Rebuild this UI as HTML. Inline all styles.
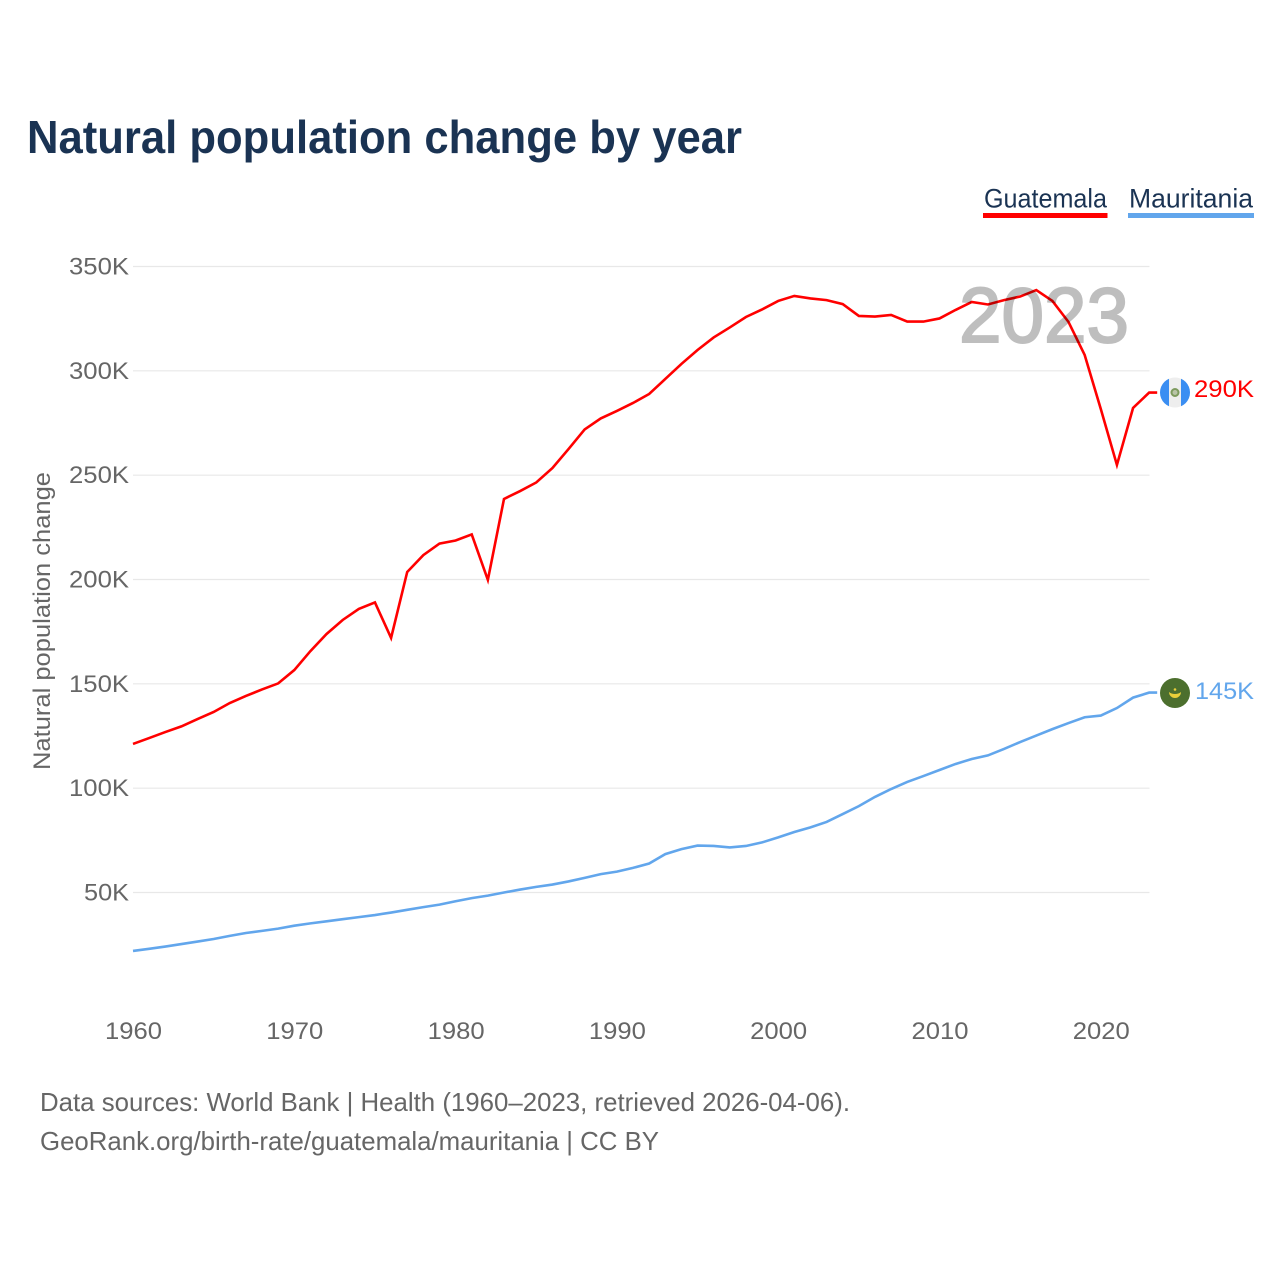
<!DOCTYPE html>
<html lang="en">
<head>
<meta charset="utf-8">
<title>Natural population change by year</title>
<style>
html,body{margin:0;padding:0;background:#fff;}
svg{display:block;font-family:"Liberation Sans",sans-serif;}
</style>
</head>
<body>
<svg id="chart" xmlns="http://www.w3.org/2000/svg" width="1280" height="1280" viewBox="0 0 1280 1280">
  <rect width="1280" height="1280" fill="#fff"/>
  <text x="27" y="153" font-size="46" font-weight="700" fill="#1a3353" textLength="715" lengthAdjust="spacingAndGlyphs">Natural population change by year</text>
  <g>
    <g>
      <text x="984" y="207.500" font-size="26.500" fill="#1a3353" textLength="123" lengthAdjust="spacingAndGlyphs">Guatemala</text>
      <rect x="983" y="213" width="124.500" height="5" fill="#ff0000"/>
    </g>
    <g>
      <text x="1129" y="207.500" font-size="26.500" fill="#1a3353" textLength="124" lengthAdjust="spacingAndGlyphs">Mauritania</text>
      <rect x="1128" y="213" width="126" height="5" fill="#62a6ec"/>
    </g>
  </g>
  <g id="grid"></g>
  <g id="yticks"></g>
  <g id="xticks"></g>
  <text transform="translate(50,770) rotate(-90)" font-size="24" fill="#666" textLength="298" lengthAdjust="spacingAndGlyphs">Natural population change</text>
  <g id="lines"></g>
  <text x="959" y="342" font-size="78" fill="#000" stroke="#000" stroke-width="2" opacity="0.25" textLength="170" lengthAdjust="spacingAndGlyphs">2023</text>
  <g>
    <clipPath id="flagClipG"><circle cx="1175" cy="392.500" r="15"/></clipPath>
    <g clip-path="url(#flagClipG)">
      <rect x="1160" y="377" width="30" height="31" fill="#eeeeee"/>
      <rect x="1160" y="377" width="9" height="31" fill="#3a8ef2"/>
      <rect x="1181" y="377" width="9" height="31" fill="#3a8ef2"/>
    </g>
    <circle cx="1175" cy="392.500" r="3.500" fill="#b9c4a8" stroke="#7d9a5e" stroke-width="2"/>
  </g>
  <g>
    <circle cx="1175" cy="693" r="15" fill="#4c6f2e"/>
    <path d="M1169 692A6 6 0 0 0 1181 692A7.500 5 0 0 1 1169 692z" fill="#e8cf3a"/>
    <circle cx="1175" cy="689.500" r="1.300" fill="#e8cf3a"/>
  </g>
  <text x="1194" y="397" font-size="24.500" fill="#ff0000" textLength="60" lengthAdjust="spacingAndGlyphs">290K</text>
  <text x="1195" y="699" font-size="24.500" fill="#62a6ec" textLength="59" lengthAdjust="spacingAndGlyphs">145K</text>
  <text x="40" y="1111" font-size="26" fill="#666" textLength="810" lengthAdjust="spacingAndGlyphs">Data sources: World Bank | Health (1960–2023, retrieved 2026-04-06).</text>
  <text x="40" y="1150" font-size="26" fill="#666" textLength="619" lengthAdjust="spacingAndGlyphs">GeoRank.org/birth-rate/guatemala/mauritania | CC BY</text>
</svg>
<script>
const years = [1960,1961,1962,1963,1964,1965,1966,1967,1968,1969,1970,1971,1972,1973,1974,1975,1976,1977,1978,1979,1980,1981,1982,1983,1984,1985,1986,1987,1988,1989,1990,1991,1992,1993,1994,1995,1996,1997,1998,1999,2000,2001,2002,2003,2004,2005,2006,2007,2008,2009,2010,2011,2012,2013,2014,2015,2016,2017,2018,2019,2020,2021,2022,2023];
const guatemala = [121.2,124,126.9,129.6,133.1,136.5,140.8,144.2,147.3,150.2,156.6,165.7,173.9,180.6,185.9,189,172,203.6,211.7,217.2,218.7,221.6,199.8,238.6,242.4,246.5,253.4,262.5,271.9,277.2,280.8,284.6,288.9,296.1,303.3,310,316,320.8,325.8,329.4,333.5,335.9,334.7,333.9,332,326.3,326,326.8,323.6,323.6,325.1,329.2,333,331.8,333.9,335.6,338.7,333.5,323.4,307.6,281.7,254.9,282.2,289.6];
const mauritania = [22,23,24.1,25.3,26.5,27.7,29.2,30.6,31.6,32.7,34.1,35.2,36.2,37.2,38.2,39.2,40.4,41.7,43,44.2,45.8,47.3,48.5,50,51.4,52.7,53.8,55.3,57,58.8,60,61.8,63.9,68.4,70.8,72.5,72.3,71.6,72.3,74,76.4,79,81.2,83.8,87.6,91.4,95.8,99.6,103,105.8,108.7,111.6,114,115.7,118.8,122.1,125.2,128.3,131.2,134,134.8,138.4,143.4,145.8];
const yTickValues = [50,100,150,200,250,300,350];
const yTickLabels = ["50K","100K","150K","200K","250K","300K","350K"];
const xTickValues = [1960,1970,1980,1990,2000,2010,2020];

const NS = "http://www.w3.org/2000/svg";
function xScale(year){ return 133 + (year - 1960) * 16.13; }
function yScale(value){ return 892.5 - (value - 50) * (892.5 - 266.5) / 300; }

const grid = document.getElementById("grid");
const yticks = document.getElementById("yticks");
const xticks = document.getElementById("xticks");
const lines = document.getElementById("lines");

yTickValues.forEach(function(v, i){
  const l = document.createElementNS(NS, "line");
  
  
  l.setAttribute("x1", 133);
  l.setAttribute("x2", 1149.5);
  l.setAttribute("y1", yScale(v));
  l.setAttribute("y2", yScale(v));
  l.setAttribute("stroke", "#e8e8e8");
  l.setAttribute("stroke-width", 1.2);
  grid.appendChild(l);

  const t = document.createElementNS(NS, "text");
  
  
  const w = yTickLabels[i].length === 3 ? 45 : 60;
  t.setAttribute("x", 129 - w);
  t.setAttribute("y", yScale(v) + 8);
  t.setAttribute("font-size", 24);
  t.setAttribute("fill", "#666");
  t.setAttribute("textLength", w);
  t.setAttribute("lengthAdjust", "spacingAndGlyphs");
  t.textContent = yTickLabels[i];
  yticks.appendChild(t);
});

xTickValues.forEach(function(year){
  const t = document.createElementNS(NS, "text");
  
  
  t.setAttribute("x", xScale(year) - 28);
  t.setAttribute("y", 1039);
  t.setAttribute("font-size", 24);
  t.setAttribute("fill", "#666");
  t.setAttribute("textLength", 57);
  t.setAttribute("lengthAdjust", "spacingAndGlyphs");
  t.textContent = String(year);
  xticks.appendChild(t);
});

function pointsFor(values){
  const pts = values.map(function(v, i){
    return xScale(years[i]).toFixed(2) + "," + yScale(v).toFixed(2);
  });
  const last = values.length - 1;
  pts.push((xScale(years[last]) + 8).toFixed(2) + "," + yScale(values[last]).toFixed(2));
  return pts.join(" ");
}

const mauritaniaLine = document.createElementNS(NS, "polyline");


mauritaniaLine.setAttribute("points", pointsFor(mauritania));
mauritaniaLine.setAttribute("fill", "none");
mauritaniaLine.setAttribute("stroke", "#62a6ec");
mauritaniaLine.setAttribute("stroke-width", 2.6);
lines.appendChild(mauritaniaLine);

const guatemalaLine = document.createElementNS(NS, "polyline");


guatemalaLine.setAttribute("points", pointsFor(guatemala));
guatemalaLine.setAttribute("fill", "none");
guatemalaLine.setAttribute("stroke", "#ff0000");
guatemalaLine.setAttribute("stroke-width", 2.6);
lines.appendChild(guatemalaLine);
</script>
</body>
</html>
